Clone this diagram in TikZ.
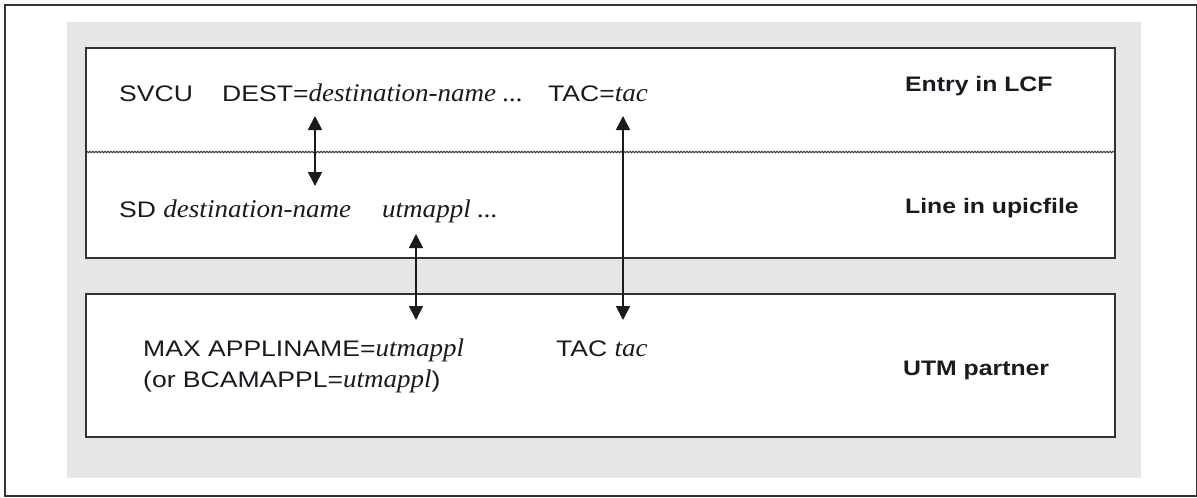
\documentclass[tikz,border=0pt]{standalone}
\usepackage{fontspec}
\setmainfont[FakeStretch=1.18]{Liberation Sans}
\newfontfamily\serifface[FakeStretch=1.06]{Liberation Serif}
\newcommand\var[1]{{\fontsize{25.5}{30}\serifface\itshape #1}}
\usetikzlibrary{arrows.meta,decorations.pathmorphing}
\definecolor{panel}{HTML}{E6E6E6}
\definecolor{rule}{HTML}{333333}
\definecolor{ink}{HTML}{1A1A22}
\begin{document}
\begin{tikzpicture}[x=1pt,y=-1pt,
  txt/.style={anchor=base west,inner sep=0pt,text=ink,font=\fontsize{22.5}{27}\selectfont},
  lbl/.style={txt,font=\fontsize{21}{26}\selectfont\bfseries},
  boxline/.style={draw=rule,line width=2.2pt},
  link/.style={draw=ink,line width=1.8pt,{Triangle[length=14pt,width=14pt]}-{Triangle[length=14pt,width=14pt]}}]
\useasboundingbox (0,0) rectangle (1197,498);
% frame and grey panel
\draw[rule,line width=2pt] (5,5) rectangle (1196.5,496);
\fill[panel] (67,22) rectangle (1141,478);
% upper box: LCF entry over upicfile line
\filldraw[fill=white,boxline] (86,48) rectangle (1115,258);
\draw[rule,line width=1pt,decorate,decoration={snake,amplitude=0.7pt,segment length=3pt}] (86,152) -- (1115,152);
% lower box: UTM partner
\filldraw[fill=white,boxline] (86,294) rectangle (1115,437);

% LCF entry
\node[txt] (svcu) at (119,101) {SVCU};
\node[txt] (dest) at (222,101) {DEST=\var{destination-name ...}};
\node[txt] (tac1) at (548,101) {TAC=\var{tac}};
\node[lbl] (lcf) at (905,91) {Entry in LCF};

% upicfile line
\node[txt] (sd) at (119,217) {SD \var{destination-name}};
\node[txt] (appl) at (382,217) {\var{utmappl ...}};
\node[lbl] (upic) at (905,213) {Line in upicfile};

% UTM partner
\node[txt] (max) at (143,356) {MAX APPLINAME=\var{utmappl}};
\node[txt] (tac2) at (556,356) {TAC \var{tac}};
\node[txt] (bcam) at (143,387) {(or BCAMAPPL=\var{utmappl})};
\node[lbl] (utm) at (903,375) {UTM partner};

% connector end points
\coordinate (d1) at (315,116);
\coordinate (d2) at (315,186);
\coordinate (t1) at (623,116);
\coordinate (t2) at (623,320);
\coordinate (u1) at (416,234);
\coordinate (u2) at (416,320);
\draw[link] (d1) -- (d2);
\draw[link] (t1) -- (t2);
\draw[link] (u1) -- (u2);
\end{tikzpicture}
\end{document}
